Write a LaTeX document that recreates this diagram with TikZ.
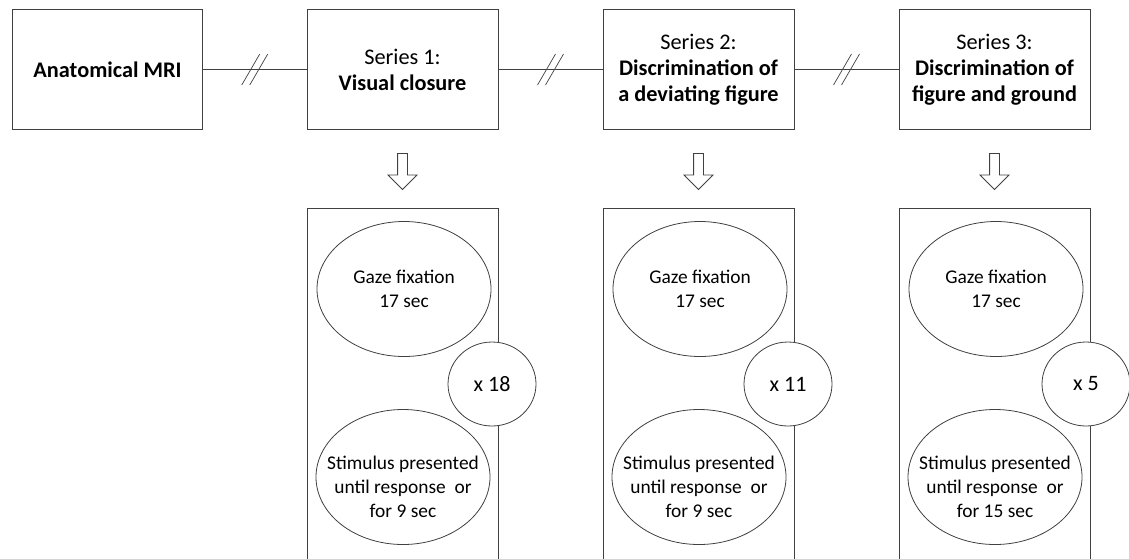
\documentclass[tikz,border=0pt]{standalone}
\usepackage{fontspec}
\setmainfont{Carlito}
\usetikzlibrary{shapes.geometric,shapes.arrows}
\definecolor{linegray}{RGB}{64,64,64}

\begin{document}
\begin{tikzpicture}[x=1pt, y=-1pt,
        % Riquadri in alto (risonanza e serie)
        phase/.style={rectangle, draw=linegray, line width=0.9pt, minimum width=191pt, minimum height=120pt, inner sep=0pt, align=center, font=\fontsize{22.3}{26}\selectfont},
        % Riquadro aperto in basso per le prove
        block/.style={rectangle, draw=linegray, line width=0.9pt, minimum width=191pt, minimum height=380pt, inner sep=0pt},
        % Ellissi per fissazione e stimolo (dimensione fissa, il testo non la allarga)
        trial/.style={ellipse, draw=linegray, line width=0.8pt, fill=white, minimum width=174pt, minimum height=135pt, inner sep=-28pt, align=center, font=\fontsize{19.4}{24}\selectfont},
        % Stimolo: testo un po' piu' in basso nell'ellisse
        stimulus/.style={trial, text height=85pt, text depth=4pt},
        % Cerchio delle ripetizioni
        reps/.style={ellipse, draw=linegray, line width=0.8pt, fill=white, minimum width=88pt, minimum height=84pt, inner sep=0pt, font=\fontsize{22}{24}\selectfont},
        % Freccia vuota verso il basso
        down/.style={single arrow, draw=linegray, line width=0.8pt, shape border rotate=270, minimum height=36pt, inner sep=4.5pt, single arrow head extend=9.5pt, single arrow tip angle=90},
        link/.style={draw=linegray, line width=0.9pt}
    ]
        \useasboundingbox (0,0) rectangle (1129,558);
        \clip (0,0) rectangle (1129,558);

        % --- RIQUADRI IN ALTO ---
        \node[phase, minimum width=190pt] (anat) at (107.5, 69.5) {\textbf{Anatomical MRI}};
        \node[phase] (s1) at (402.5, 69.5) {Series 1:\\\textbf{Visual closure}};
        \node[phase] (s2) at (698.5, 69.5) {Series 2:\\\textbf{Discrimination of}\\\textbf{a deviating figure}};
        \node[phase] (s3) at (994.5, 69.5) {Series 3:\\\textbf{Discrimination of}\\\textbf{figure and ground}};

        % --- COLLEGAMENTI CON INTERRUZIONE ---
        \draw[link] (anat) -- (s1) coordinate[midway] (cut1);
        \draw[link] (s1) -- (s2) coordinate[midway] (cut2);
        \draw[link] (s2) -- (s3) coordinate[midway] (cut3);

        \draw[link, line width=0.7pt] ([shift={(-13,15.5)}]cut1) -- ([shift={(5,-15.5)}]cut1)
                                      ([shift={(-5,15.5)}]cut1) -- ([shift={(13,-15.5)}]cut1);
        \draw[link, line width=0.7pt] ([shift={(-13,15.5)}]cut2) -- ([shift={(5,-15.5)}]cut2)
                                      ([shift={(-5,15.5)}]cut2) -- ([shift={(13,-15.5)}]cut2);
        \draw[link, line width=0.7pt] ([shift={(-13,15.5)}]cut3) -- ([shift={(5,-15.5)}]cut3)
                                      ([shift={(-5,15.5)}]cut3) -- ([shift={(13,-15.5)}]cut3);

        % --- FRECCE ---
        \node[down] (arr1) at (402.5, 169) {};
        \node[down] (arr2) at (698.5, 169) {};
        \node[down] (arr3) at (994.5, 169) {};

        % --- SERIE 1 ---
        \node[block] (b1) at (402.5, 398) {};
        \node[trial] (fix1) at (404, 289) {Gaze fixation\\17 sec};
        \node[stimulus] (stim1) at (403, 477) {Stimulus presented\\until response\ \ or\\for 9 sec};
        \node[reps]  (rep1) at (492, 384) {x 18};

        % --- SERIE 2 ---
        \node[block] (b2) at (698.5, 398) {};
        \node[trial] (fix2) at (700, 289) {Gaze fixation\\17 sec};
        \node[stimulus] (stim2) at (699, 477) {Stimulus presented\\until response\ \ or\\for 9 sec};
        \node[reps]  (rep2) at (788, 384) {x 11};

        % --- SERIE 3 ---
        \node[block] (b3) at (994.5, 398) {};
        \node[trial] (fix3) at (996, 289) {Gaze fixation\\17 sec};
        \node[stimulus] (stim3) at (995, 477) {Stimulus presented\\until response\ \ or\\for 15 sec};
        \node[reps]  (rep3) at (1086, 384) {x 5};

    \end{tikzpicture}
\end{document}
